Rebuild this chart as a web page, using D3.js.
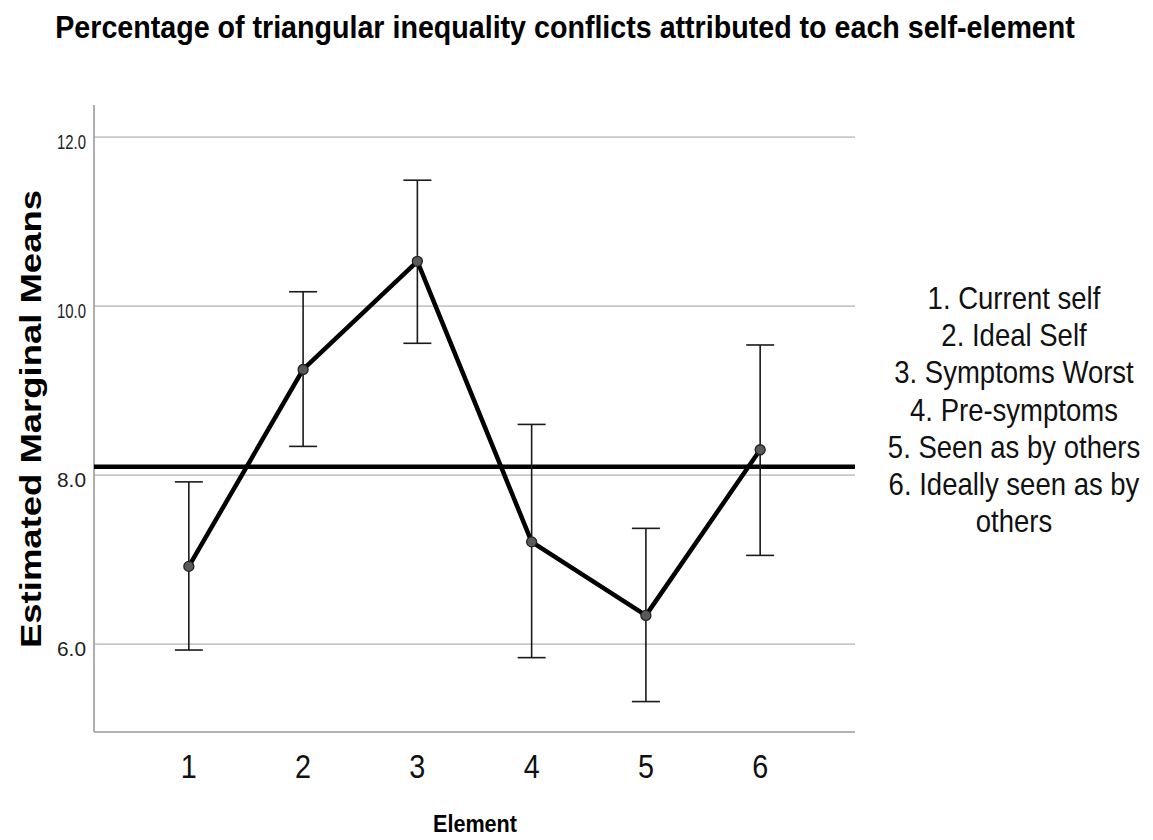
<!DOCTYPE html>
<html>
<head>
<meta charset="utf-8">
<script src="https://cdn.jsdelivr.net/npm/d3@7"></script>
<style>
  body { margin: 0; background: #fff; }
  svg { display: block; font-family: "Liberation Sans", Arial, sans-serif; }
</style>
</head>
<body>
<div id="viz"></div>
<script>
// values
const elements = [1, 2, 3, 4, 5, 6];
const means = [6.92, 9.25, 10.53, 7.21, 6.34, 8.30];
const upper = [7.92, 10.17, 11.49, 8.60, 7.37, 9.54];
const lower = [5.93, 8.34, 9.56, 5.84, 5.32, 7.05];
const refValue = 8.10;
const yTicks = [6, 8, 10, 12];
const legendLines = [
  "1. Current self",
  "2. Ideal Self",
  "3. Symptoms Worst",
  "4. Pre-symptoms",
  "5. Seen as by others",
  "6. Ideally seen as by",
  "others"
];

const WIDTH = 1153, HEIGHT = 840;
const plot = { left: 94, right: 855, top: 105, bottom: 732 };

const svg = d3.select("#viz").append("svg")
  .attr("width", WIDTH)
  .attr("height", HEIGHT)
  .attr("viewBox", `0 0 ${WIDTH} ${HEIGHT}`);

const x = d3.scalePoint()
  .domain(elements)
  .range([plot.left, plot.right])
  .padding(0.83);

const y = d3.scaleLinear()
  .domain([4.96, 12.38])
  .range([plot.bottom, plot.top]);

// title, squeezed horizontally to the reference width
const title = svg.append("text")
  .attr("text-anchor", "middle")
  .style("font-size", "31px")
  .style("font-weight", "bold")
  .text("Percentage of triangular inequality conflicts attributed to each self-element");
const titleLen = title.node().getComputedTextLength();
title.attr("transform", `translate(565,38) scale(${1020 / titleLen},1)`);

// gridlines
svg.append("g")
  .selectAll("line")
  .data(yTicks)
  .join("line")
  .attr("x1", plot.left)
  .attr("x2", plot.right)
  .attr("y1", d => y(d))
  .attr("y2", d => y(d))
  .attr("stroke", "#c8c8c8")
  .attr("stroke-width", 1.6);

// y axis
const yAxis = svg.append("g")
  .attr("transform", `translate(${plot.left},0)`)
  .call(d3.axisLeft(y).tickValues(yTicks).tickSize(0).tickPadding(8).tickFormat(d3.format(".1f")));
yAxis.select(".domain").remove();
yAxis.selectAll("text")
  .attr("dy", "0.55em")
  .attr("textLength", 29)
  .attr("lengthAdjust", "spacingAndGlyphs")
  .style("font-family", "\"Liberation Sans\", Arial, sans-serif")
  .style("font-size", "20px")
  .attr("fill", "#222");

// axis lines
svg.append("line")
  .attr("x1", plot.left).attr("x2", plot.left)
  .attr("y1", plot.top).attr("y2", plot.bottom)
  .attr("stroke", "#9a9a9a").attr("stroke-width", 1.6);
svg.append("line")
  .attr("x1", plot.left).attr("x2", plot.right)
  .attr("y1", plot.bottom).attr("y2", plot.bottom)
  .attr("stroke", "#9a9a9a").attr("stroke-width", 1.6);

// x axis labels
svg.append("g")
  .selectAll("text")
  .data(elements)
  .join("text")
  .attr("x", d => x(d))
  .attr("y", 778)
  .attr("text-anchor", "middle")
  .attr("textLength", 16)
  .attr("lengthAdjust", "spacingAndGlyphs")
  .style("font-size", "34px")
  .attr("fill", "#111")
  .text(d => d);

svg.append("text")
  .attr("x", 475)
  .attr("y", 832)
  .attr("text-anchor", "middle")
  .attr("textLength", 84)
  .attr("lengthAdjust", "spacingAndGlyphs")
  .style("font-size", "24px")
  .style("font-weight", "bold")
  .text("Element");

// y axis title
svg.append("text")
  .attr("transform", `translate(41,419) rotate(-90)`)
  .attr("text-anchor", "middle")
  .attr("textLength", 458)
  .attr("lengthAdjust", "spacingAndGlyphs")
  .style("font-size", "29px")
  .style("font-weight", "bold")
  .text("Estimated Marginal Means");

// reference line
svg.append("line")
  .attr("x1", plot.left).attr("x2", plot.right)
  .attr("y1", y(refValue)).attr("y2", y(refValue))
  .attr("stroke", "#000").attr("stroke-width", 4.5);

// error bars
const bars = svg.append("g")
  .attr("stroke", "#1a1a1a")
  .attr("stroke-width", 1.6);
elements.forEach((e, i) => {
  const cx = x(e);
  bars.append("line")
    .attr("x1", cx).attr("x2", cx)
    .attr("y1", y(lower[i])).attr("y2", y(upper[i]));
  [lower[i], upper[i]].forEach(v => {
    bars.append("line")
      .attr("x1", cx - 14).attr("x2", cx + 14)
      .attr("y1", y(v)).attr("y2", y(v));
  });
});

// mean line
svg.append("path")
  .datum(elements.map((e, i) => [e, means[i]]))
  .attr("d", d3.line().x(d => x(d[0])).y(d => y(d[1])))
  .attr("fill", "none")
  .attr("stroke", "#000")
  .attr("stroke-width", 4.5)
  .attr("stroke-linejoin", "round");

svg.append("g")
  .selectAll("circle")
  .data(elements)
  .join("circle")
  .attr("cx", d => x(d))
  .attr("cy", (d, i) => y(means[i]))
  .attr("r", 5)
  .attr("fill", "#5a5a5a")
  .attr("stroke", "#222")
  .attr("stroke-width", 1.3);

// side legend
svg.append("g")
  .selectAll("text")
  .data(legendLines)
  .join("text")
  .attr("transform", (d, i) => `translate(1014,${309 + i * 37.2}) scale(0.86,1)`)
  .attr("text-anchor", "middle")
  .style("font-size", "32px")
  .attr("fill", "#111")
  .text(d => d);
</script>
</body>
</html>
